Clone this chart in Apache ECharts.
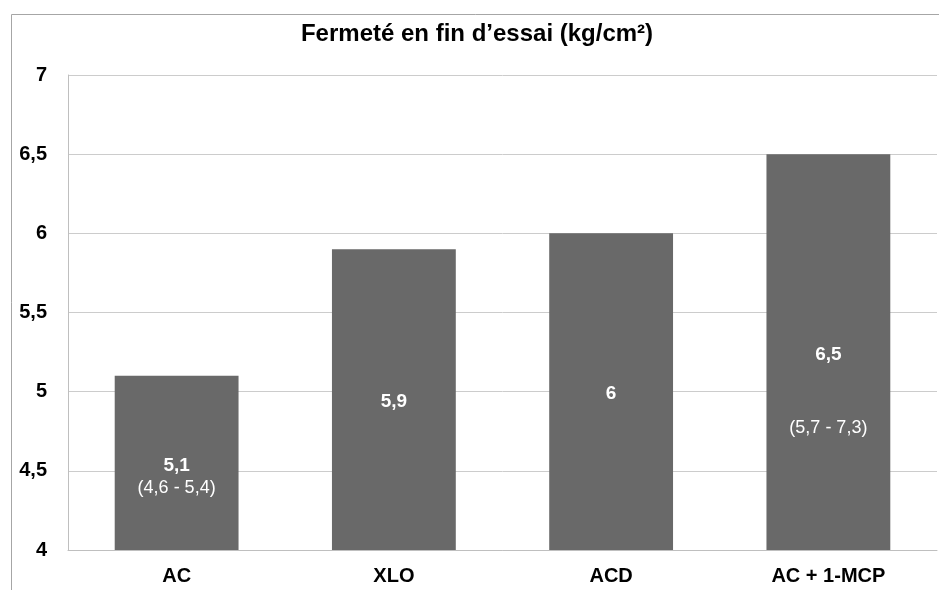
<!DOCTYPE html>
<html>
<head>
<meta charset="utf-8">
<script src="https://cdn.jsdelivr.net/npm/echarts@6/dist/echarts.min.js"></script>
<style>
html, body { margin: 0; padding: 0; background: #fff; }
#myChart { width: 939px; height: 590px; }
</style>
</head>
<body>
<div id="myChart"></div>
<script>
// données
let categories = ['AC', 'XLO', 'ACD', 'AC + 1-MCP']
let fermete = [5.1, 5.9, 6.0, 6.5]
let intervalles = ['(4,6 - 5,4)', '', '', '(5,7 - 7,3)']
let yTicks = [4, 4.5, 5, 5.5, 6, 6.5, 7]

let myChart = echarts.init(document.getElementById('myChart'))

const fmt = v => String(v).replace('.', ',')

// décalage des étiquettes (style seulement)
let labelOffsets = [[0, 14], [0, 2], [0, 2], [0, 39]]
let gaps = [0, 0, 0, 50]

let seriesData = fermete.map((v, i) => {
    let txt = '{v|' + fmt(v) + '}'
    if (intervalles[i]) {
        if (gaps[i] > 0) txt += '\n{g| }'
        txt += '\n{r|' + intervalles[i] + '}'
    }
    return {
        value: v,
        label: {
            formatter: txt,
            offset: labelOffsets[i],
            rich: {
                v: { color: '#fff', fontWeight: 'bold', fontSize: 19, lineHeight: 23, fontFamily: 'Liberation Sans' },
                g: { fontSize: 10, lineHeight: gaps[i] || 1 },
                r: { color: '#fff', fontSize: 18, lineHeight: 23, fontFamily: 'Liberation Sans' }
            }
        }
    }
})

let option = {
    animation: false,
    textStyle: { fontFamily: 'Liberation Sans' },
    title: {
        text: 'Fermeté en fin d’essai (kg/cm²)',
        left: 472,
        textAlign: 'center',
        top: 17,
        textStyle: { color: '#000', fontSize: 24, fontWeight: 'bold', fontFamily: 'Liberation Sans' }
    },
    graphic: [{
        type: 'rect',
        left: 9, top: 12,
        shape: { width: 940, height: 600 },
        style: { fill: 'none', stroke: '#a6a6a6', lineWidth: 1 },
        silent: true,
        z: -1
    }],
    grid: { left: 68, right: 2, top: 75, bottom: 40, containLabel: false },
    xAxis: {
        type: 'category',
        data: categories,
        axisTick: { show: false },
        axisLine: { lineStyle: { color: '#bfbfbf' } },
        axisLabel: { color: '#000', fontSize: 20, fontWeight: 'bold', margin: 16 }
    },
    yAxis: {
        type: 'value',
        min: 4, max: 7, interval: 0.5,
        axisLine: { show: true, lineStyle: { color: '#bfbfbf' } },
        axisTick: { show: false },
        splitLine: { lineStyle: { color: '#cccccc' } },
        axisLabel: {
            color: '#000', fontSize: 20, fontWeight: 'bold', margin: 21,
            formatter: v => yTicks.includes(v) ? fmt(v) : ''
        }
    },
    series: [{
        type: 'bar',
        data: seriesData,
        barWidth: '57%',
        itemStyle: { color: '#696969' },
        label: { show: true, position: 'inside' }
    }]
}
myChart.setOption(option)

window.addEventListener('resize', () => {
    myChart.resize()
})
</script>
</body>
</html>
